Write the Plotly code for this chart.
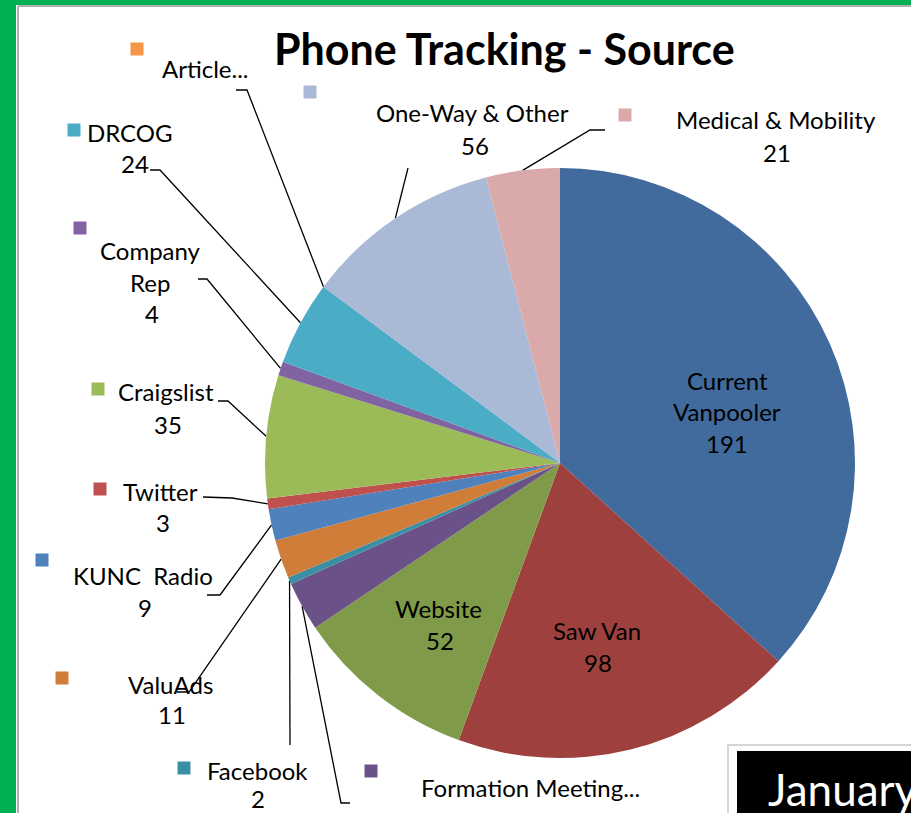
import math
import plotly.graph_objects as go

# slices, clockwise from 12 o'clock
sources = ["Current Vanpooler", "Saw Van", "Website", "Formation Meeting", "Facebook",
           "ValuAds", "KUNC Radio", "Twitter", "Craigslist", "Company Rep", "DRCOG",
           "Article", "One-Way & Other", "Medical & Mobility"]
calls = [191, 98, 52, 14, 2, 11, 9, 3, 35, 4, 24, 0, 56, 21]
colors = ["#416A9D", "#9E413E", "#7F9B49", "#6A5289", "#3B8FA5", "#CF7D38", "#4F81BD",
          "#C0504D", "#9BBB59", "#8064A2", "#4BACC6", "#F79646", "#AAB9D6", "#D9AAA9"]

W, H = 911, 813
CX, CY, R = 560, 463, 295
FONT = "Lato"
FS = 24

# outside labels: lines of text (with pixel position), legend square, leader start
outside = {
    "Article": dict(lines=[("Article...", 205, 68)], sq=(137, 49), lead=[(236, 90), (247, 90)]),
    "One-Way & Other": dict(lines=[("One-Way & Other", 472, 112), ("56", 475, 145)], sq=(310, 92), lead=[(408, 168)]),
    "Medical & Mobility": dict(lines=[("Medical & Mobility", 776, 119), ("21", 777, 152)], sq=(625, 115), lead=[(605, 130), (590, 130)]),
    "DRCOG": dict(lines=[("DRCOG", 130, 132), ("24", 135, 163)], sq=(74, 130), lead=[(150, 170), (160, 170)]),
    "Company Rep": dict(lines=[("Company", 150, 250), ("Rep", 150, 282), ("4", 152, 313)], sq=(80, 228), lead=[(198, 279), (207, 279)]),
    "Craigslist": dict(lines=[("Craigslist", 166, 391), ("35", 168, 424)], sq=(98, 389), lead=[(218, 401), (228, 401)]),
    "Twitter": dict(lines=[("Twitter", 160, 491), ("3", 163, 522)], sq=(100, 489), lead=[(203, 497), (232, 498)]),
    "KUNC Radio": dict(lines=[("KUNC  Radio", 143, 575), ("9", 145, 607)], sq=(42, 560), lead=[(207, 595), (220, 595)]),
    "ValuAds": dict(lines=[("ValuAds", 170, 684), ("11", 172, 714)], sq=(62, 678), lead=[(177, 692), (189, 692)]),
    "Facebook": dict(lines=[("Facebook", 257, 770), ("2", 258, 798)], sq=(184, 768), lead=[(290, 745)]),
    "Formation Meeting": dict(lines=[("Formation Meeting...", 530, 787)], sq=(371, 771), lead=[(350, 803), (341, 803)]),
}
inside = {
    "Current Vanpooler": [("Current", 727, 380), ("Vanpooler", 727, 411), ("191", 727, 443)],
    "Saw Van": [("Saw Van", 597, 630), ("98", 598, 662)],
    "Website": [("Website", 438, 608), ("52", 440, 640)],
}

fig = go.Figure()

fig.add_trace(go.Pie(
    labels=sources, values=calls, sort=False, direction="clockwise", rotation=0,
    marker=dict(colors=colors, line=dict(width=0)), textinfo="none", hoverinfo="label+value",
    domain=dict(x=[(CX - R) / W, (CX + R) / W], y=[1 - (CY + R) / H, 1 - (CY - R) / H]),
    showlegend=False,
))

# leader lines, ending on the pie edge at each slice's mid angle
total = sum(calls)
cum = 0
lx, ly = [], []
mids = {}
for name, v in zip(sources, calls):
    a = math.radians((cum + v / 2) / total * 360)
    mids[name] = (CX + R * math.sin(a), CY - R * math.cos(a))
    cum += v
for name, d in outside.items():
    pts = d["lead"] + [mids[name]]
    lx += [p[0] for p in pts] + [None]
    ly += [p[1] for p in pts] + [None]
fig.add_trace(go.Scatter(x=lx, y=ly, mode="lines", line=dict(color="black", width=1.3),
                         hoverinfo="skip", showlegend=False))

# legend squares
names = list(outside)
fig.add_trace(go.Scatter(
    x=[outside[n]["sq"][0] for n in names], y=[outside[n]["sq"][1] for n in names],
    mode="markers", hoverinfo="skip", showlegend=False,
    marker=dict(symbol="square", size=13, color=[colors[sources.index(n)] for n in names]),
))

annotations = []
for name, d in outside.items():
    for t, x, y in d["lines"]:
        annotations.append(dict(x=x, y=y, text=t, showarrow=False, xref="x", yref="y",
                                font=dict(family=FONT, size=FS, color="black")))
for name, ls in inside.items():
    for t, x, y in ls:
        annotations.append(dict(x=x, y=y, text=t, showarrow=False, xref="x", yref="y",
                                font=dict(family=FONT, size=FS, color="black")))
annotations.append(dict(x=504, y=48, text="<b>Phone Tracking - Source</b>", showarrow=False,
                        xref="x", yref="y", font=dict(family=FONT, size=43, color="black")))
annotations.append(dict(x=766, y=789, text="January", showarrow=False, xanchor="left",
                        xref="x", yref="y", font=dict(family=FONT, size=44, color="white")))

shapes = [
    dict(type="rect", xref="x", yref="y", x0=0, x1=16, y0=0, y1=H, fillcolor="#00B050", line_width=0),
    dict(type="rect", xref="x", yref="y", x0=0, x1=W, y0=0, y1=5, fillcolor="#00B050", line_width=0),
    dict(type="line", xref="x", yref="y", x0=18, x1=18, y0=6, y1=H, line=dict(color="#b0b0b0", width=2)),
    dict(type="line", xref="x", yref="y", x0=18, x1=W, y0=6, y1=6, line=dict(color="#b0b0b0", width=2)),
    dict(type="rect", xref="x", yref="y", x0=728, x1=W + 10, y0=745, y1=H + 10,
         fillcolor="white", line=dict(color="#d6d6d6", width=2)),
    dict(type="rect", xref="x", yref="y", x0=737, x1=W + 10, y0=751, y1=H + 10,
         fillcolor="black", line_width=0),
]

fig.update_layout(
    width=W, height=H,
    margin=dict(l=0, r=0, t=0, b=0),
    paper_bgcolor="white", plot_bgcolor="rgba(0,0,0,0)",
    xaxis=dict(range=[0, W], visible=False, fixedrange=True),
    yaxis=dict(range=[H, 0], visible=False, fixedrange=True),
    shapes=shapes,
    annotations=annotations,
    showlegend=False,
)

fig.write_html("out.html", config={"displayModeBar": False},
               post_script="document.body.style.margin='0';document.body.style.overflow='hidden';")
